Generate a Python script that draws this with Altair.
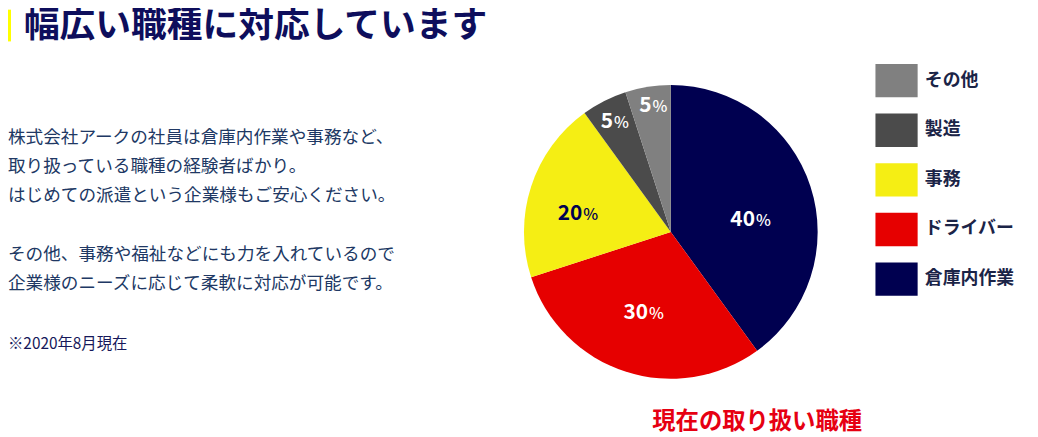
import altair as alt
import pandas as pd

# ---- data ----
categories = ["倉庫内作業", "ドライバー", "事務", "製造", "その他"]
values = [40, 30, 20, 5, 5]
order_idx = [0, 1, 2, 3, 4]
legend_order = ["その他", "製造", "事務", "ドライバー", "倉庫内作業"]
legend_colors = ["#808080", "#4b4b4b", "#f5ee14", "#e60000", "#000050"]

title_text = "幅広い職種に対応しています"
para1_lines = [
    "株式会社アークの社員は倉庫内作業や事務など、",
    "取り扱っている職種の経験者ばかり。",
    "はじめての派遣という企業様もご安心ください。",
]
para2_lines = [
    "その他、事務や福祉などにも力を入れているので",
    "企業様のニーズに応じて柔軟に対応が可能です。",
]
note_text = "※2020年8月現在"
caption_text = "現在の取り扱い職種"

FONT = "Noto Sans CJK JP"
CX, CY, R = 668, 224, 148
LH = 29.6

df = pd.DataFrame({"cat": categories, "value": values, "idx": order_idx})
one = pd.DataFrame({"a": [0]})

# yellow bar
bar = alt.Chart(one).mark_rect(color="#ffff00").encode(
    x=alt.value(0), x2=alt.value(3), y=alt.value(0), y2=alt.value(32)
)

title = alt.Chart(one).mark_text(
    text=title_text, font=FONT, fontSize=36, fontWeight="bold",
    color="#0e0e5c", align="left", baseline="middle"
).encode(x=alt.value(16), y=alt.value(17))

para1 = alt.Chart(one).mark_text(
    text="\n".join(para1_lines), lineBreak="\n", lineHeight=LH,
    font=FONT, fontSize=17.75, color="#203864", align="left", baseline="alphabetic"
).encode(x=alt.value(0), y=alt.value(134))

para2 = alt.Chart(one).mark_text(
    text="\n".join(para2_lines), lineBreak="\n", lineHeight=LH,
    font=FONT, fontSize=17.75, color="#203864", align="left", baseline="alphabetic"
).encode(x=alt.value(0), y=alt.value(134 + 4 * LH))

note = alt.Chart(one).mark_text(
    text=note_text, font=FONT, fontSize=15.5, color="#16185a",
    align="left", baseline="alphabetic"
).encode(x=alt.value(0), y=alt.value(342))

caption = alt.Chart(one).mark_text(
    text=caption_text, font=FONT, fontSize=23.5, fontWeight="bold",
    color="#e60012", align="center", baseline="middle"
).encode(x=alt.value(755), y=alt.value(416))

PATH = "M-1.037,-0.82H1.037V0.82H-1.037Z"

pie = alt.Chart(df).mark_arc(outerRadius=R, strokeWidth=0).encode(
    theta=alt.Theta("value:Q", stack=True, scale=alt.Scale(domain=[0, 100])),
    order=alt.Order("idx:Q"),
    color=alt.Color(
        "cat:N",
        scale=alt.Scale(domain=legend_order, range=legend_colors),
        legend=alt.Legend(
            title=None, orient="none", legendX=875, legendY=51,
            symbolType=PATH, symbolSize=1681, symbolStrokeWidth=0,
            symbolOpacity=1, labelFont=FONT, labelFontSize=18,
            labelFontWeight="bold", labelColor="#1b2447",
            labelOffset=8, rowPadding=12, padding=0, labelLimit=300,
        ),
    ),
    x=alt.value(CX),
    y=alt.value(CY),
)


def label_layer(cat, radius, color, dx=0, dy=0):
    base = (
        alt.Chart(df)
        .transform_window(cum="sum(value)", sort=[alt.SortField("idx")], frame=[None, 0])
        .transform_calculate(mid="datum.cum - datum.value / 2")
        .transform_filter(alt.datum.cat == cat)
    )
    enc = dict(
        theta=alt.Theta("mid:Q", scale=alt.Scale(domain=[0, 100])),
        x=alt.value(CX),
        y=alt.value(CY),
    )
    num = base.mark_text(
        radius=radius, align="right", baseline="alphabetic",
        dx=3 + dx, dy=7.5 + dy, font=FONT, fontSize=21, fontWeight="bold",
        color=color,
    ).encode(text=alt.Text("value:Q"), **enc)
    pct = base.mark_text(
        radius=radius, align="left", baseline="alphabetic",
        dx=4 + dx, dy=7.5 + dy, font=FONT, fontSize=16, fontWeight=500,
        color=color, text="%",
    ).encode(**enc)
    return [num, pct]


labels = []
labels += label_layer("倉庫内作業", 86, "#ffffff", dx=0, dy=13)
labels += label_layer("ドライバー", 84, "#ffffff")
labels += label_layer("事務", 97, "#000050", dx=0, dy=10)
labels += label_layer("製造", 126, "#ffffff", dx=-4)
labels += label_layer("その他", 130, "#ffffff", dx=-2)

chart = alt.layer(bar, title, para1, para2, note, caption, pie, *labels).properties(
    width=1030, height=429, padding=0,
    autosize=alt.AutoSizeParams(type="none"),
    background="white",
).configure_view(strokeWidth=0)

chart.save("out.html", embed_options={"renderer": "svg", "actions": False})
